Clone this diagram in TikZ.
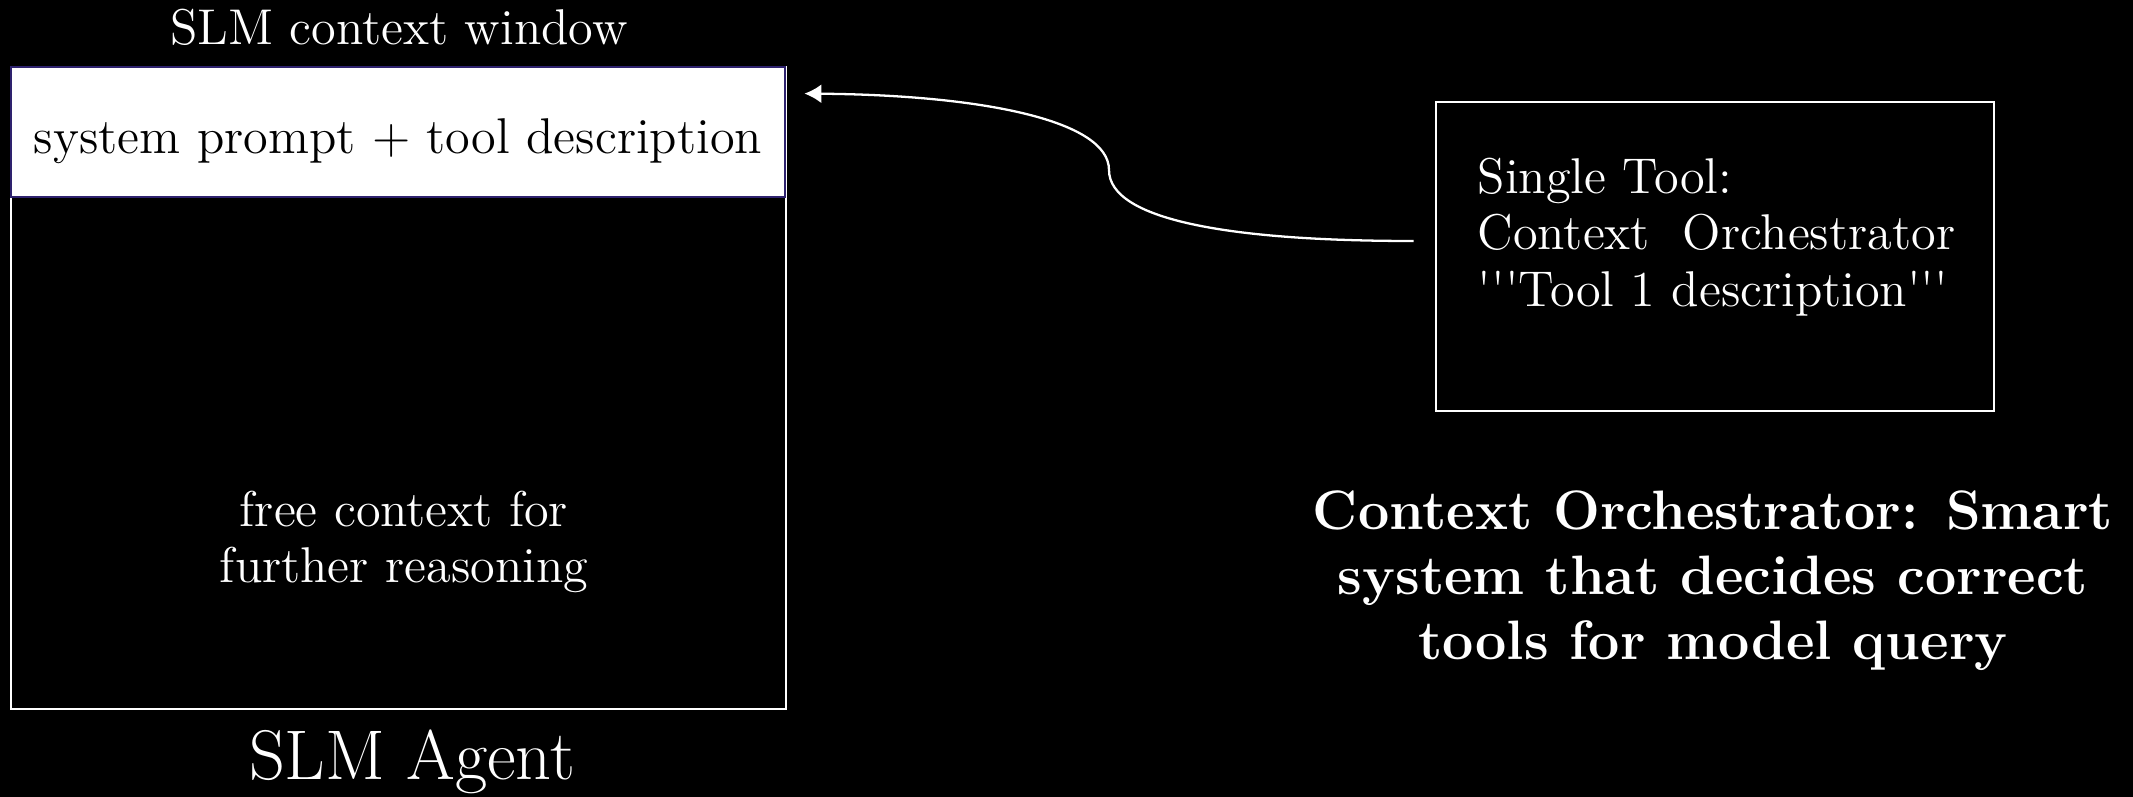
\documentclass[tikz,border=0pt]{standalone}
\usepackage{fontspec}
\usepackage{tikz}
\usetikzlibrary{positioning, arrows.meta, calc}

\definecolor{promptedge}{RGB}{46,34,110}

\begin{document}
\begin{tikzpicture}[
	every node/.style={text=white, font=\fontsize{14.3}{16}\selectfont},
	frame/.style={draw=white, line width=0.8pt, rectangle},
	link/.style={draw=white, line width=0.65pt, -{Latex[length=1.7mm, width=1.9mm]}}]
		%Background and page size
		\fill[black] (0,0) rectangle (21.33,-7.97);
		\useasboundingbox (0,0) rectangle (21.33,-7.97);
		
		%SLM agent with its context window
		\node (Context Window) at (3.985,-3.88) [frame, minimum height=6.42cm, 
		minimum width=7.75cm]{};
		\node (Prompt) at (3.98,-1.32) [draw=promptedge, line width=0.8pt, rectangle, 
		minimum height=1.30cm, minimum width=7.74cm, text centered, fill=white, 
		text=black, text height=0.44cm, text depth=0pt]{system prompt + tool description};
		\node (Free Context) at (4.04,-5.42) [text centered, align=center]{free context for 
		\\further reasoning};
		
		%Writing around the agent
		\node (Scritta1) at (3.99,-0.27) [text centered]{SLM context window};
		\node (Scritta2) at (4.12,-7.62) [text centered, font=\fontsize{20}{24}\selectfont]{SLM Agent};
		
		%Orchestrator tool
		\node (Orchestrator) at (17.15,-2.565) [frame, minimum height=3.09cm, 
		minimum width=5.58cm]{};
		\node (Tool Text) at (14.77,-2.37) [anchor=west, inner sep=0pt, align=left]{Single Tool: 
		\\Context\ \ Orchestrator
		\\\textquotesingle\textquotesingle\textquotesingle Tool 1 
		description\textquotesingle\textquotesingle\textquotesingle};
		
		%Caption of the orchestrator
		\node (Scritta3) at (17.13,-5.81) [text centered, align=center, 
		font=\fontsize{15.8}{18.5}\selectfont\bfseries]{Context Orchestrator: Smart 
		\\system that decides correct \\tools for model query};
		
		%Link from the tool to the prompt
		\coordinate (tail) at ($(Orchestrator.west)+(-0.21,0.155)$);
		\coordinate (tip) at ($(Prompt.north east)+(0.18,-0.28)$);
		\draw[link] (tail) .. controls (12.3,-2.41) and (11.09,-2.2) .. (11.09,-1.70) 
		.. controls (11.09,-1.2) and (9.8,-0.95) .. (tip);
		
		\end{tikzpicture}
\end{document}
